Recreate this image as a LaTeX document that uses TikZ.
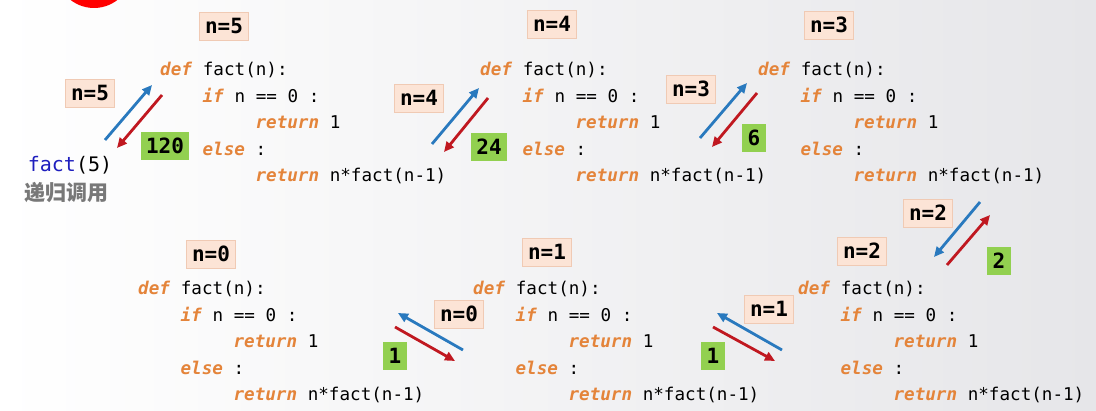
\documentclass[tikz,border=0pt]{standalone}
\usepackage{fontspec}
\setmonofont{DejaVu Sans Mono}
\newfontfamily\cjk{Noto Sans CJK SC}
\usetikzlibrary{arrows.meta}
\definecolor{kwc}{RGB}{228,132,58}
\definecolor{peach}{RGB}{252,228,214}
\definecolor{peachb}{RGB}{240,202,180}
\definecolor{grn}{RGB}{146,208,80}
\definecolor{blu}{RGB}{41,121,190}
\definecolor{rd}{RGB}{192,24,32}
\definecolor{bgr}{RGB}{230,230,233}
\definecolor{fblue}{RGB}{30,30,190}
\definecolor{cngray}{RGB}{120,120,120}
\newcommand{\kw}[1]{\textcolor{kwc}{\textbf{\textit{#1}}}}
\newcommand{\codeblk}[3]{%
  \node[code] (#1a) at (#2,#3) {\kw{def} fact(n):};
  \node[code] (#1b) at (#2+42.4,#3+26.5) {\kw{if} n == 0 :};
  \node[code] (#1c) at (#2+95.4,#3+53) {\kw{return} 1};
  \node[code] (#1d) at (#2+42.4,#3+79.5) {\kw{else} :};
  \node[code] (#1e) at (#2+95.4,#3+106) {\kw{return} n*fact(n-1)};
}
\tikzset{
  code/.style={anchor=base west, inner sep=0pt, font=\fontsize{17.6}{20}\selectfont\ttfamily},
  lab/.style={fill=peach, draw=peachb, line width=0.6pt, inner xsep=5.5pt, inner ysep=0pt,
    minimum height=28pt, font=\fontsize{21}{21}\selectfont\ttfamily\bfseries},
  res/.style={fill=grn, inner xsep=5.5pt, inner ysep=0pt, minimum height=28pt,
    font=\fontsize{21}{21}\selectfont\ttfamily\bfseries},
  ba/.style={draw=blu, line width=2.8pt, -{Triangle[length=10pt,width=9pt]}},
  ra/.style={draw=rd, line width=2.8pt, -{Triangle[length=10pt,width=9pt]}},
}
\begin{document}
\begin{tikzpicture}[x=1pt,y=-1pt]
\useasboundingbox (0,0) rectangle (1096,411);
\shade[left color=white, right color=bgr] (0,0) rectangle (1096,411);
\begin{scope}
  \clip (0,0) rectangle (1096,411);
  \fill[red] (94,-30) circle (38);
\end{scope}

% code blocks
\codeblk{b5}{160}{76}
\codeblk{b4}{480}{76}
\codeblk{b3}{758}{76}
\codeblk{b0}{138}{295}
\codeblk{b1}{473}{295}
\codeblk{b2}{798}{295}

% call
\node[inner sep=0pt, font=\fontsize{20}{20}\selectfont\ttfamily] (call) at (70,165) {\textcolor{fblue}{fact}(5)};
\node[inner sep=0pt, text=cngray, font=\fontsize{21}{21}\cjk\bfseries] (cn) at (66,193) {递归调用};

% labels
\node[lab] (l5t) at (224,26) {n=5};
\node[lab] (l5l) at (90,93) {n=5};
\node[res] (r5) at (165,146) {120};
\node[lab] (l4t) at (552,24) {n=4};
\node[lab] (l4l) at (419,98) {n=4};
\node[res] (r4) at (489,147) {24};
\node[lab] (l3t) at (829,25) {n=3};
\node[lab] (l3l) at (691,89) {n=3};
\node[res] (r3) at (754,138) {6};
\node[lab] (l2u) at (928,213) {n=2};
\node[lab] (l2t) at (862,251) {n=2};
\node[res] (r2) at (999,261) {2};
\node[lab] (l1t) at (547,252) {n=1};
\node[lab] (l1r) at (769,309) {n=1};
\node[res] (r1) at (713,356) {1};
\node[lab] (l0t) at (211,254) {n=0};
\node[lab] (l0r) at (459,314) {n=0};
\node[res] (r0) at (395,356) {1};

% arrow end points
\coordinate (p1s) at (105,140); \coordinate (p1e) at (152,85);
\coordinate (q1s) at (162,95);  \coordinate (q1e) at (117,148);
\coordinate (p2s) at (432,144); \coordinate (p2e) at (479,88);
\coordinate (q2s) at (488,98);  \coordinate (q2e) at (444,152);
\coordinate (p3s) at (700,138); \coordinate (p3e) at (747,83);
\coordinate (q3s) at (757,93);  \coordinate (q3e) at (712,147);
\coordinate (p4s) at (980,202); \coordinate (p4e) at (934,257);
\coordinate (q4s) at (947,265); \coordinate (q4e) at (990,215);
\coordinate (p5s) at (782,350); \coordinate (p5e) at (717,313);
\coordinate (q5s) at (713,327); \coordinate (q5e) at (775,361);
\coordinate (p6s) at (463,350); \coordinate (p6e) at (398,313);
\coordinate (q6s) at (395,327); \coordinate (q6e) at (455,361);

\draw[ba] (p1s) -- (p1e); \draw[ra] (q1s) -- (q1e);
\draw[ba] (p2s) -- (p2e); \draw[ra] (q2s) -- (q2e);
\draw[ba] (p3s) -- (p3e); \draw[ra] (q3s) -- (q3e);
\draw[ba] (p4s) -- (p4e); \draw[ra] (q4s) -- (q4e);
\draw[ba] (p5s) -- (p5e); \draw[ra] (q5s) -- (q5e);
\draw[ba] (p6s) -- (p6e); \draw[ra] (q6s) -- (q6e);
\end{tikzpicture}
\end{document}
